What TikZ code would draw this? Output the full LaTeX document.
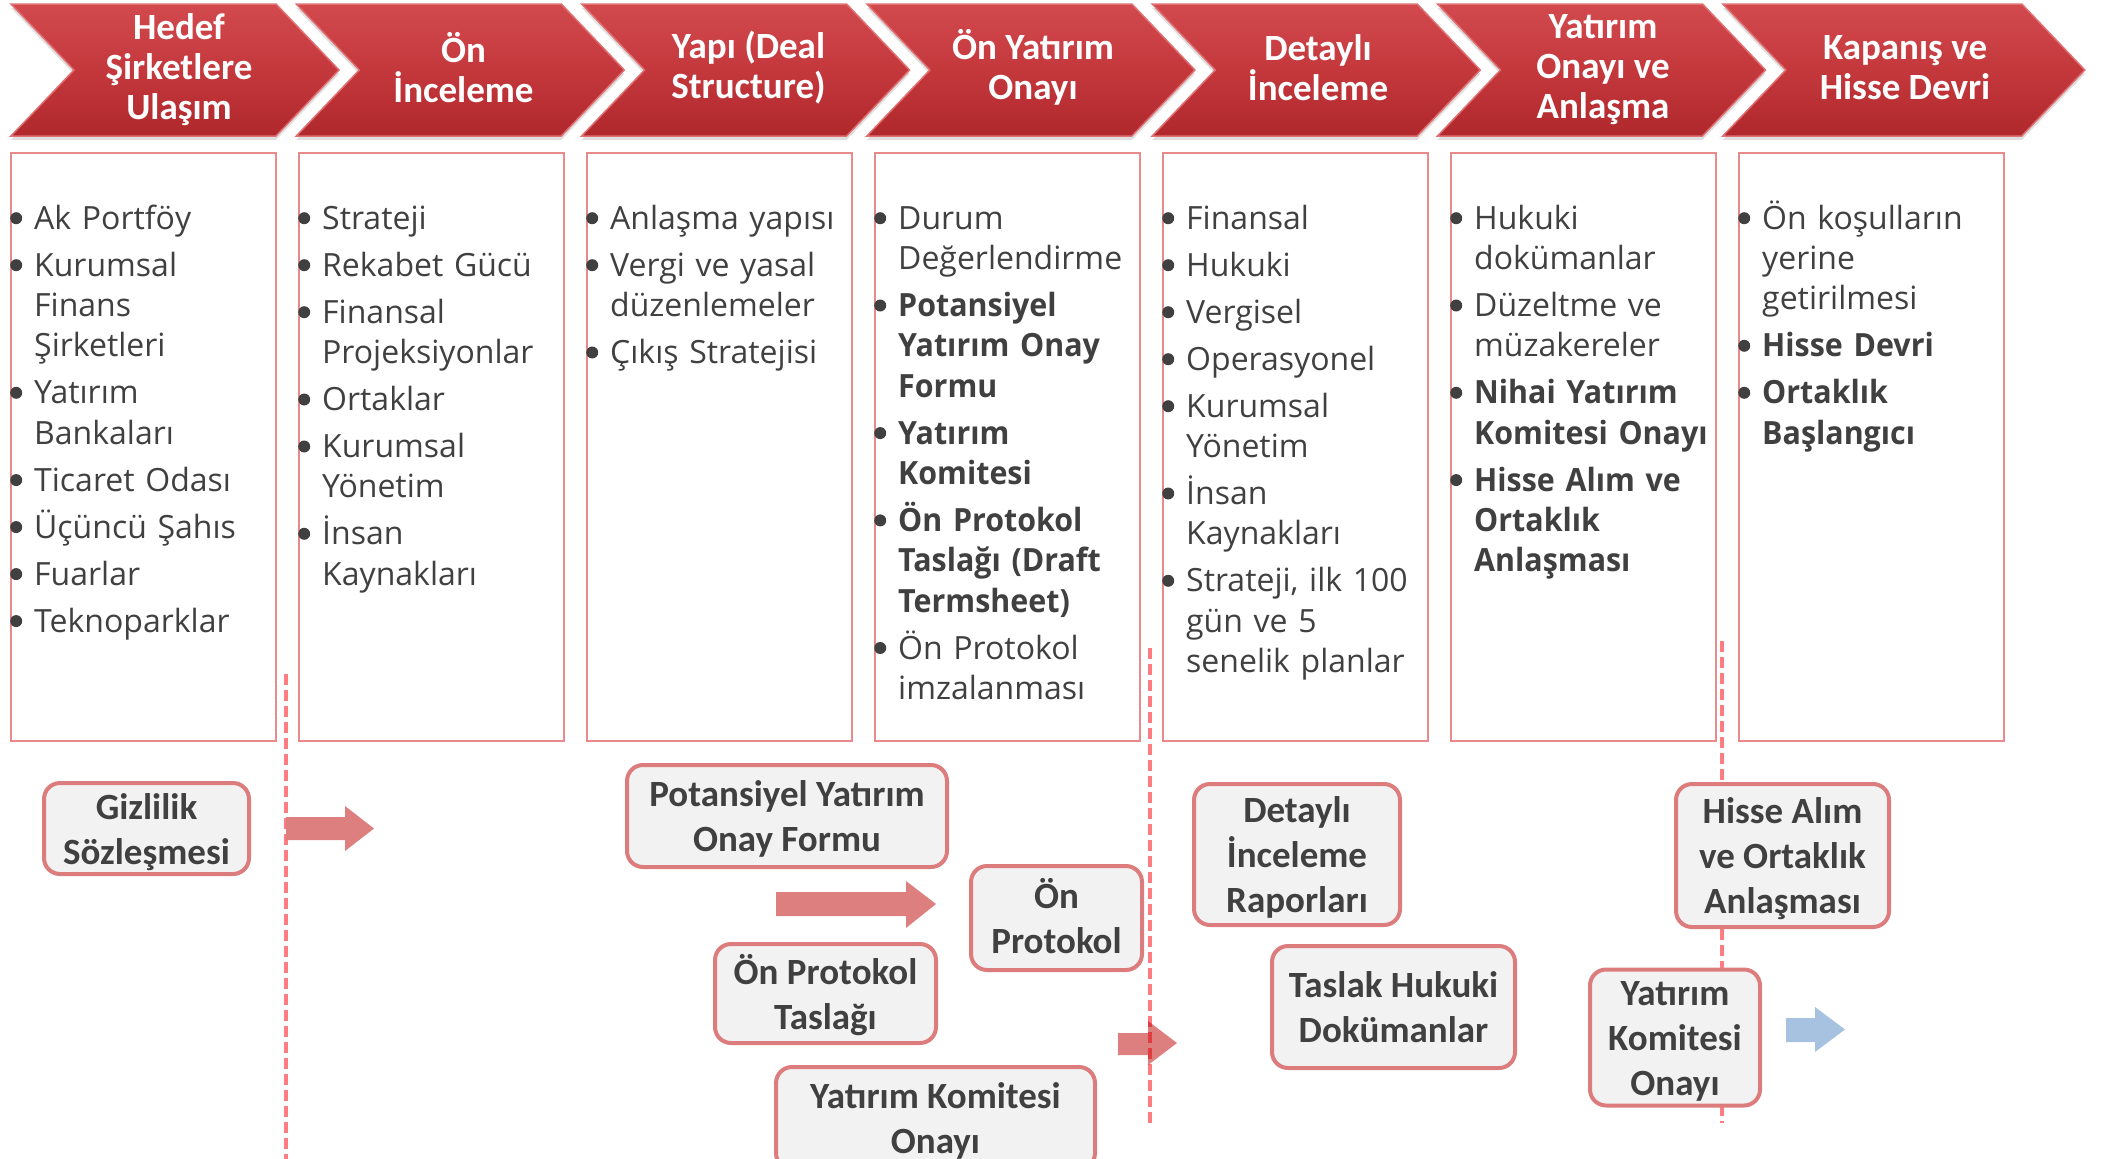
\documentclass[tikz,border=0pt]{standalone}
\usepackage{fontspec}
\setmainfont{Carlito}
\newfontfamily\osans{Open Sans}[BoldFeatures={FakeStretch=0.95}]
\usetikzlibrary{shadows}
\definecolor{chevtop}{RGB}{210,74,78}
\definecolor{chevmid}{RGB}{196,56,60}
\definecolor{chevbot}{RGB}{176,40,44}
\definecolor{chevedge}{RGB}{224,112,114}
\definecolor{boxline}{RGB}{232,138,138}
\definecolor{txt}{RGB}{64,64,64}
\definecolor{lblline}{RGB}{221,124,124}
\definecolor{lblfill}{RGB}{242,242,242}
\definecolor{arrred}{RGB}{222,127,127}
\definecolor{arrblue}{RGB}{167,194,224}
\definecolor{dashred}{RGB}{255,124,128}
\definecolor{overlapred}{RGB}{222,62,64}

\newcommand{\chevshape}[2]{%
  \path[chev] (#1,4) -- ++(#2,0) -- ++(63,66) -- ++(-63,66) -- (#1,136) -- ++(63,-66) -- cycle;}
\newcommand{\bdot}{\tikz[baseline=0pt]\fill[txt] (6pt,11pt) circle[radius=6pt];}
\newcommand{\bi}[1]{\hangindent=24.5pt\hangafter=1\noindent\makebox[24.5pt][l]{\hspace{0.5pt}\bdot}#1}
\newcommand{\gap}{\par\vspace{6.7pt}}
\newcommand{\sa}{\rule{0pt}{36pt}}
\newcommand{\sd}{\rule[-10pt]{0pt}{10pt}}

\tikzset{
  chev/.style={top color=chevtop, bottom color=chevbot, middle color=chevmid,
    draw=chevedge, line width=1.5pt, line join=miter,
    drop shadow={opacity=0.25, shadow xshift=0pt, shadow yshift=-4pt}},
  chevtext/.style={text=white, font=\fontsize{37}{40}\selectfont\bfseries, align=center, inner sep=0pt},
  listbox/.style={draw=boxline, line width=2pt, fill=white, anchor=north west,
    minimum width=265pt, minimum height=588pt, inner sep=0pt},
  listtext/.style={anchor=north west, inner sep=0pt, text width=300pt, align=left,
    text=txt, font=\osans\fontsize{32}{40.3}\selectfont},
  lbl/.style={draw=lblline, fill=lblfill, line width=4pt, rounded corners=16pt,
    text=txt, font=\fontsize{37}{45}\selectfont\bfseries, align=center, inner sep=0pt},
  redarrow/.style={fill=arrred, draw=none},
  bluearrow/.style={fill=arrblue, draw=none},
  dashline/.style={draw=dashred, line width=4pt, dash pattern=on 11pt off 5pt},
}

\begin{document}
\begin{tikzpicture}[x=1pt,y=-1pt]
\useasboundingbox (0,0) rectangle (2107,1159);
\clip (0,0) rectangle (2107,1159);

% chevrons
\chevshape{11}{265}
\chevshape{296.3}{265}
\chevshape{581.6}{265}
\chevshape{866.9}{265}
\chevshape{1152.2}{265}
\chevshape{1437.5}{265}
\chevshape{1722.8}{299}

\node[chevtext] (h1) at (179,70) {Hedef\\Şirketlere\\Ulaşım};
\node[chevtext] (h2) at (463.5,67.5) {Ön\\İnceleme};
\node[chevtext] (h3) at (748.5,67.5) {Yapı (Deal\\Structure)};
\node[chevtext] (h4) at (1033,67.5) {Ön Yatırım\\Onayı};
\node[chevtext] (h5) at (1318,67.5) {Detaylı\\İnceleme};
\node[chevtext] (h6) at (1603,70) {Yatırım\\Onayı ve\\Anlaşma};
\node[chevtext] (h7) at (1905,67.5) {Kapanış ve\\Hisse Devri};

% list boxes
\node[listbox] (b1) at (9.5,152) {};
\node[listbox] (b2) at (297.5,152) {};
\node[listbox] (b3) at (585.5,152) {};
\node[listbox] (b4) at (873.5,152) {};
\node[listbox] (b5) at (1161.5,152) {};
\node[listbox] (b6) at (1449.5,152) {};
\node[listbox] (b7) at (1737.5,152) {};

\node[listtext] (t1) at (9.5,199) {\bi{\rule{0pt}{30pt}Ak Portföy}\gap
\bi{Kurumsal\newline Finans\newline Şirketleri}\gap
\bi{Yatırım\newline Bankaları}\gap
\bi{Ticaret Odası}\gap
\bi{Üçüncü Şahıs}\gap
\bi{Fuarlar}\gap
\bi{Teknoparklar}\par};

\node[listtext] (t2) at (297.5,199) {\bi{\rule{0pt}{30pt}Strateji}\gap
\bi{Rekabet Gücü}\gap
\bi{Finansal\newline Projeksiyonlar}\gap
\bi{Ortaklar}\gap
\bi{Kurumsal\newline Yönetim}\gap
\bi{İnsan\newline Kaynakları}\par};

\node[listtext] (t3) at (585.5,199) {\bi{\rule{0pt}{30pt}Anlaşma yapısı}\gap
\bi{Vergi ve yasal\newline düzenlemeler}\gap
\bi{Çıkış Stratejisi}\par};

\node[listtext] (t4) at (873.5,199) {\bi{\rule{0pt}{30pt}Durum\newline Değerlendirme}\gap
\bi{\textbf{Potansiyel\newline Yatırım Onay\newline Formu}}\gap
\bi{\textbf{Yatırım\newline Komitesi}}\gap
\bi{\textbf{Ön Protokol\newline Taslağı (Draft\newline Termsheet)}}\gap
\bi{Ön Protokol\newline imzalanması}\par};

\node[listtext] (t5) at (1161.5,199) {\bi{\rule{0pt}{30pt}Finansal}\gap
\bi{Hukuki}\gap
\bi{Vergisel}\gap
\bi{Operasyonel}\gap
\bi{Kurumsal\newline Yönetim}\gap
\bi{İnsan\newline Kaynakları}\gap
\bi{Strateji, ilk 100\newline gün ve 5\newline senelik planlar}\par};

\node[listtext] (t6) at (1449.5,199) {\bi{\rule{0pt}{30pt}Hukuki\newline dokümanlar}\gap
\bi{Düzeltme ve\newline müzakereler}\gap
\bi{\textbf{Nihai Yatırım\newline Komitesi Onayı}}\gap
\bi{\textbf{Hisse Alım ve\newline Ortaklık\newline Anlaşması}}\par};

\node[listtext] (t7) at (1737.5,199) {\bi{\rule{0pt}{30pt}Ön koşulların\newline yerine\newline getirilmesi}\gap
\bi{\textbf{Hisse Devri}}\gap
\bi{\textbf{Ortaklık\newline Başlangıcı}}\par};

% dashed separators
\coordinate (d1t) at (286,674);
\coordinate (d1b) at (286,1165);
\coordinate (d2t) at (1150,648);
\coordinate (d2b) at (1150,1128);
\coordinate (d3t) at (1722,641);
\coordinate (d3b) at (1722,1123);
\draw[dashline] (d1t) -- (d1b);
\draw[dashline] (d2t) -- (d2b);
\draw[dashline] (d3t) -- (d3b);

% block arrows
\fill[redarrow] (286,817) -- (345,817) -- (345,806) -- (374,828.5) -- (345,851) -- (345,840) -- (286,840) -- cycle;
\fill[redarrow] (776,892) -- (906,892) -- (906,881) -- (936,904) -- (906,928) -- (906,916) -- (776,916) -- cycle;
\fill[redarrow] (1118,1033) -- (1148,1033) -- (1148,1021) -- (1177,1043) -- (1148,1065) -- (1148,1055) -- (1118,1055) -- cycle;
\begin{scope}
  \clip (1118,1033) -- (1148,1033) -- (1148,1021) -- (1177,1043) -- (1148,1065) -- (1148,1055) -- (1118,1055) -- cycle;
  \draw[dashline, draw=overlapred] (d2t) -- (d2b);
\end{scope}
\fill[bluearrow] (1786,1018) -- (1815,1018) -- (1815,1007) -- (1845,1029.5) -- (1815,1052) -- (1815,1042) -- (1786,1042) -- cycle;

% document labels
\node[lbl, minimum width=205pt, minimum height=89pt] (gizlilik) at (146.5,828.5) {\sa Gizlilik\\Sözleşmesi\sd};
\node[lbl, minimum width=320pt, minimum height=102pt] (potansiyel) at (787,816) {\sa Potansiyel Yatırım\\Onay Formu\sd};
\node[lbl, minimum width=171pt, minimum height=104pt] (onprotokol) at (1056.5,918) {\sa Ön\\Protokol\sd};
\node[lbl, minimum width=221pt, minimum height=99pt] (taslagi) at (825.5,993.5) {\sa Ön Protokol\\Taslağı\sd};
\node[lbl, minimum width=319pt, minimum height=102pt] (ykonay1) at (935.5,1118) {\sa Yatırım Komitesi\\Onayı\sd};
\node[lbl, minimum width=206pt, minimum height=141pt] (detayli) at (1297,854.5) {\sa Detaylı\\İnceleme\\Raporları\sd};
\node[lbl, minimum width=243pt, minimum height=122pt] (taslakhukuki) at (1393.5,1007) {\sa Taslak Hukuki\\Dokümanlar\sd};
\node[lbl, minimum width=213pt, minimum height=143pt] (hisse) at (1782.5,855.5) {\sa Hisse Alım\\ve Ortaklık\\Anlaşması\sd};
\node[lbl, minimum width=170pt, minimum height=129pt] (ykonay2) at (1675,1037.5) {\sa Yatırım\\Komitesi\\Onayı\sd};
\end{tikzpicture}
\end{document}
